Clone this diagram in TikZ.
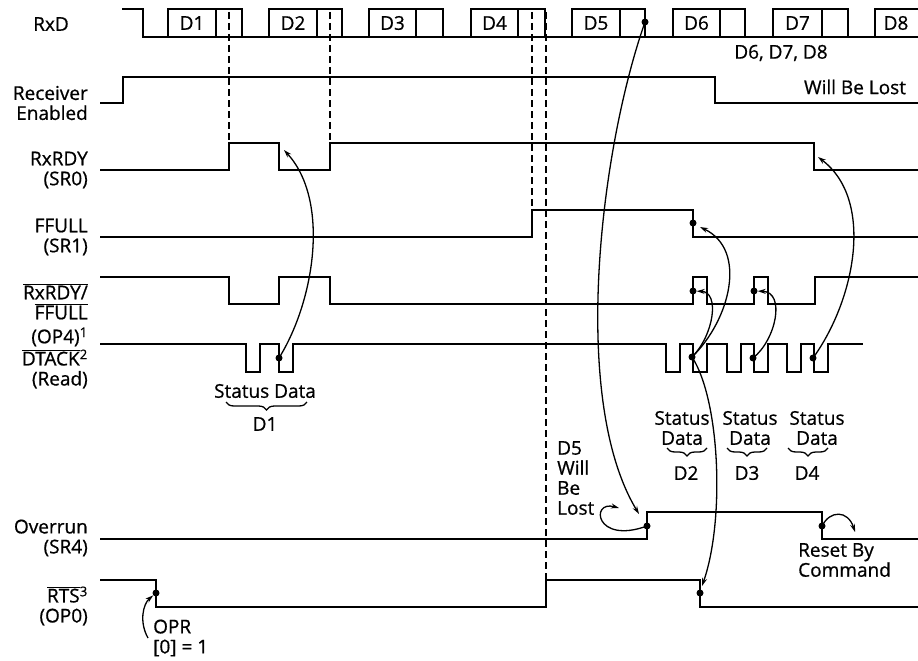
\documentclass[tikz,border=0pt]{standalone}
\usepackage{fontspec}
\setmainfont{Open Sans}[BoldFont=Open Sans,BoldFeatures={FakeBold=0.7}]
\usetikzlibrary{arrows.meta,decorations.pathreplacing}
\newcommand{\ovl}[1]{$\overline{\mbox{#1}}$}
\begin{document}
\begin{tikzpicture}[x=1pt,y=-1pt,
  wave/.style={line width=2.2pt},
  guide/.style={line width=1.2pt,dash pattern=on 7pt off 4pt},
  cause/.style={line width=1.3pt,-{Stealth[length=8pt,width=5pt]}},
  lbl/.style={font=\fontsize{19}{20}\selectfont\bfseries,inner sep=0pt,align=right,anchor=east},
  txt/.style={font=\fontsize{19}{20}\selectfont\bfseries,inner sep=0pt,align=center},
  note/.style={font=\fontsize{19}{20}\selectfont\bfseries,inner sep=0pt,align=left,anchor=west},
  dot/.style={circle,fill,inner sep=0pt,minimum size=7pt},
  grp/.style={decorate,decoration={brace,amplitude=8pt},line width=1.3pt}]

\useasboundingbox (0,0) rectangle (918,661);

% signal names
\node[lbl] (rxd) at (69,24) {RxD};
\node[lbl] (recv) at (88,103) {Receiver\\Enabled};
\node[lbl] (rdy) at (88,170) {RxRDY\\(SR0)};
\node[lbl] (ffull) at (88,237) {FFULL\\(SR1)};
\node[lbl] (op4) at (88,315) {\ovl{RxRDY/}\\\ovl{FFULL}\\[4pt](OP4)\textsuperscript{1}};
\node[lbl] (dtack) at (88,369) {\ovl{DTACK}\textsuperscript{2}\\(Read)};
\node[lbl] (ovr) at (88,538) {Overrun\\(SR4)};
\node[lbl] (rts) at (88,606) {\ovl{RTS}\textsuperscript{3}\\(OP0)};

% RxD
\draw[wave] (122,9) -- (143,9) -- (143,37) -- (918,37);
\foreach \s/\m/\e/\d in {168/216/242/1,269/317/342/2,369/416/443/3,471/518/545/4,
                         572/620/645/5,673/720/745/6,773/822/848/7}{
  \draw[wave] (\s,37) rectangle (\e,9);
  \draw[wave] (\m,9) -- (\m,37);
  \node[txt] (char\d) at ({(\s+\m)/2},23) {D\d};
}
\draw[wave] (875,37) -- (875,9) -- (918,9);
\node[txt] (char8) at (896,23) {D8};
\node[txt] (lost678) at (781,53) {D6, D7, D8};

% receiver enabled
\draw[wave] (100,103) -- (123,103) -- (123,77) -- (715,77) -- (715,103) -- (918,103);
\node[txt] (willlost) at (855,87) {Will Be Lost};

% RxRDY
\draw[wave] (100,170) -- (229,170) -- (229,143) -- (279,143) -- (279,170) -- (330,170)
  -- (330,143) -- (814,143) -- (814,170) -- (918,170);

% FFULL
\draw[wave] (100,237) -- (532,237) -- (532,210) -- (693,210) -- (693,237) -- (918,237);

% RxRDY/FFULL
\draw[wave] (100,277) -- (229,277) -- (229,304) -- (279,304) -- (279,277) -- (330,277)
  -- (330,304) -- (693,304) -- (693,277) -- (707,277) -- (707,304) -- (754,304)
  -- (754,277) -- (768,277) -- (768,304) -- (815,304) -- (815,277) -- (918,277);

% DTACK
\draw[wave] (100,344) foreach \a in {246,279,666,693,727,754,787,814}
  { -- (\a,344) -- (\a,372) -- (\a+14,372) -- (\a+14,344) } -- (863,344);

% overrun
\draw[wave] (100,539) -- (647,539) -- (647,512) -- (822,512) -- (822,539) -- (918,539);

% RTS
\draw[wave] (100,580) -- (156,580) -- (156,607) -- (546,607) -- (546,580) -- (700,580)
  -- (700,607) -- (918,607);

% timing guides
\draw[guide] (229,12) -- (229,143);
\draw[guide] (330,12) -- (330,143);
\draw[guide] (532,12) -- (532,210);
\draw[guide] (546,12) -- (546,580);

% reads
\node[txt] (sdD1) at (265,391) {Status Data};
\draw[grp] (307,402) -- (226,402);
\node[txt] (readD1) at (265,424) {D1};
\node[txt] (sdD2) at (682,428) {Status\\Data};
\node[txt] (sdD3) at (750,428) {Status\\Data};
\node[txt] (sdD4) at (817,428) {Status\\Data};
\draw[grp] (707,448) -- (667,448);
\draw[grp] (767,448) -- (727,448);
\draw[grp] (828,448) -- (788,448);
\node[txt] (readD2) at (686,473) {D2};
\node[txt] (readD3) at (747,473) {D3};
\node[txt] (readD4) at (807,473) {D4};

\node[note] (d5lost) at (557,478) {D5\\Will\\Be\\Lost};
\node[note] (reset) at (798,560) {Reset By\\Command};
\node[note] (opr) at (153,638) {OPR\\{[0]} = 1};

% event dots
\node[dot] (rxd5) at (645,22) {};
\node[dot] (dt1) at (279,358) {};
\node[dot] (ffdot) at (693,223) {};
\node[dot] (opA) at (693,291) {};
\node[dot] (opB) at (754,291) {};
\node[dot] (dtA) at (692,357) {};
\node[dot] (dtB) at (753,358) {};
\node[dot] (dtC) at (813,358) {};
\node[dot] (ovrA) at (647,526) {};
\node[dot] (ovrB) at (822,526) {};
\node[dot] (rtsA) at (156,593) {};
\node[dot] (rtsB) at (700,593) {};

\coordinate (rdytip1) at (284,150);
\coordinate (fftip) at (700,227);
\coordinate (rdytip2) at (818,157);
\coordinate (ovrtip) at (639,514);
\coordinate (losttip) at (619,508);
\coordinate (resettip) at (855,532);
\coordinate (rtstip) at (702,586);
\coordinate (oprfoot) at (148,638);

% causes
\draw[cause] (dt1.center) .. controls (315,300) and (330,200) .. (rdytip1);
\draw[cause] (dtA.center) .. controls (730,320) and (748,250) .. (fftip);
\draw[cause] (dtA.center) .. controls (714,335) and (720,292) .. (opA);
\draw[cause] (dtB.center) .. controls (776,340) and (786,292) .. (opB);
\draw[cause] (dtC.center) .. controls (855,300) and (875,200) .. (rdytip2);
\draw[cause] (rxd5.center) .. controls (600,150) and (570,400) .. (ovrtip);
\draw[cause] (ovrA.center) .. controls (595,545) and (590,500) .. (losttip);
\draw[cause] (ovrB.center) .. controls (830,510) and (848,510) .. (resettip);
\draw[cause] (dtA.center) .. controls (720,400) and (725,520) .. (rtstip);
\draw[cause] (oprfoot) .. controls (139,622) and (143,604) .. (rtsA);

\end{tikzpicture}
\end{document}
